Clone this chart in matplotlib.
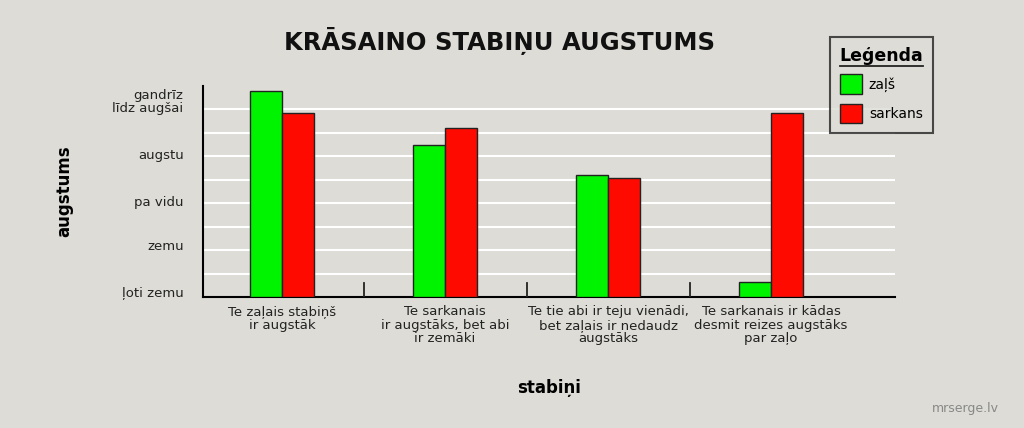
import matplotlib
matplotlib.use('Agg')
import matplotlib.pyplot as plt
import numpy as np

categories = [
    'Te zaļais stabiņš\nir augstāk',
    'Te sarkanais\nir augstāks, bet abi\nir zemāki',
    'Te tie abi ir teju vienādi,\nbet zaļais ir nedaudz\naugstāks',
    'Te sarkanais ir kādas\ndesmit reizes augstāks\npar zaļo',
]
green_vals = [8.77, 6.47, 5.19, 0.64]
red_vals = [7.83, 7.19, 5.06, 7.83]
ytick_pos = [0.25, 2.2, 4.1, 6.1, 8.4]
ytick_labels = ['ļoti zemu', 'zemu', 'pa vidu', 'augstu', 'gandrīz\nlīdz augšai']

bg = '#dddcd6'
plt.rcParams['font.family'] = ['DejaVu Sans']

fig = plt.figure(figsize=(10.24, 4.28), dpi=100, facecolor=bg)
ax = fig.add_axes([203/1024, 1-297/428, (895-203)/1024, (297-86)/428])
ax.set_facecolor(bg)

x = np.arange(len(categories))
w = 0.196
b1 = ax.bar(x - w/2, green_vals, w, color='#00f400', edgecolor='#222', linewidth=1, label='zaļš', zorder=3)
b2 = ax.bar(x + w/2, red_vals, w, color='#ff0a00', edgecolor='#222', linewidth=1, label='sarkans', zorder=3)

ax.set_xlim(-0.485, 3.76)
ax.set_ylim(0, 9)
for g in range(1, 9):
    ax.axhline(g, color='white', linewidth=1.5, zorder=1)

for s in ['top', 'right']:
    ax.spines[s].set_visible(False)
ax.spines['left'].set_linewidth(1.5)
ax.spines['bottom'].set_linewidth(1.5)

ax.set_yticks(ytick_pos)
ax.set_yticklabels(ytick_labels, fontsize=9.5, color='#222', linespacing=1.0)
ax.tick_params(axis='y', length=0, pad=14)
ax.set_xticks(x)
ax.set_xticklabels(categories, fontsize=9.5, color='#222', linespacing=1.05)
ax.tick_params(axis='x', length=0, pad=6)
for sep in [0.5, 1.5, 2.5]:
    ax.plot([sep, sep], [0, 0.6], color='#222', linewidth=1.3, zorder=4)

ax.set_xlabel('stabiņi', fontsize=12, fontweight='bold', labelpad=24)
ax.set_ylabel('augstums', fontsize=12, fontweight='bold', labelpad=28)

fig.text(0.488, 0.905, 'KRĀSAINO STABIŅU AUGSTUMS', ha='center', va='center',
         fontsize=17.5, fontweight='bold', color='#111')

leg = ax.legend(handles=[b1, b2], title='Leģenda', loc='upper left',
                bbox_to_anchor=(823/1024, 1-30/428), bbox_transform=fig.transFigure,
                fontsize=10, title_fontproperties={'weight': 'bold', 'size': 12.5},
                frameon=True, fancybox=False, edgecolor='#222', facecolor=bg,
                handlelength=1.6, handleheight=1.8, borderpad=0.7, labelspacing=0.7,
                handletextpad=0.5, alignment='left')
leg.get_frame().set_linewidth(1.5)
leg.set_zorder(10)

# underline the legend title
fig.canvas.draw()
bb = leg.get_title().get_window_extent().transformed(fig.transFigure.inverted())
fig.add_artist(plt.Line2D([bb.x0, bb.x1], [bb.y0 - 0.004, bb.y0 - 0.004],
                          transform=fig.transFigure, color='#222', linewidth=1.3, zorder=11))

fig.text(0.975, 0.03, 'mrserge.lv', ha='right', va='bottom', fontsize=9, color='#888')

fig.savefig('out.png', dpi=100, facecolor=bg)
